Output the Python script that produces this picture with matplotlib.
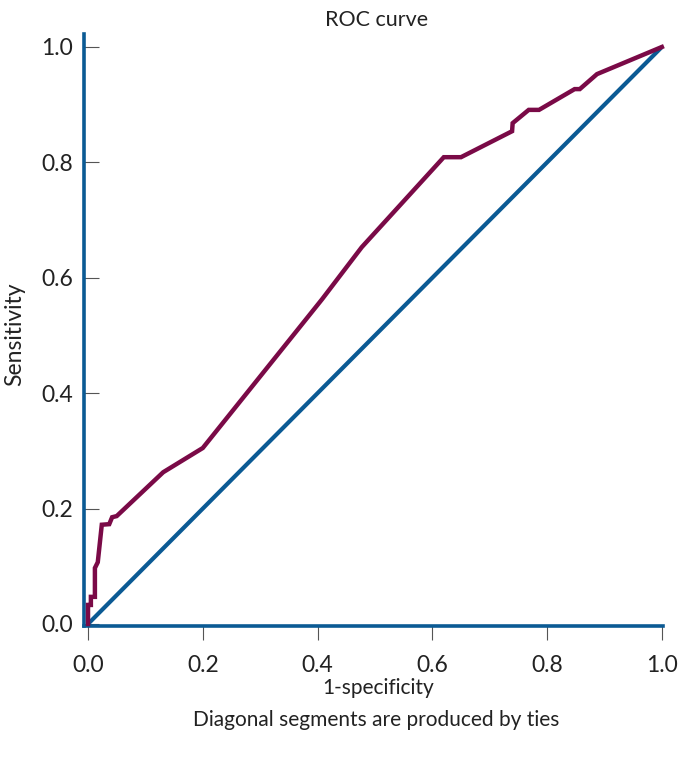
import matplotlib
matplotlib.use("Agg")
import matplotlib.pyplot as plt

plt.rcParams['font.family'] = ['Lato', 'DejaVu Sans']

# ROC curve points (1-specificity, sensitivity)
fpr = [0.0, 0.0, 0.005, 0.005, 0.012, 0.012, 0.017, 0.024, 0.037, 0.042, 0.05,
       0.131, 0.200, 0.404, 0.408, 0.477, 0.620, 0.650, 0.739, 0.740, 0.768,
       0.786, 0.848, 0.857, 0.887, 1.0]
tpr = [0.0, 0.033, 0.033, 0.047, 0.047, 0.097, 0.107, 0.172, 0.173, 0.185, 0.187,
       0.263, 0.305, 0.558, 0.563, 0.653, 0.809, 0.809, 0.854, 0.868, 0.891,
       0.891, 0.927, 0.927, 0.953, 1.0]
ref_line = [0.0, 1.0]
ticks = [0.0, 0.2, 0.4, 0.6, 0.8, 1.0]
tick_labels = ['0.0', '0.2', '0.4', '0.6', '0.8', '1.0']

BLUE = '#0b5a94'
MAROON = '#7a0a47'

W, H = 682, 764
fig = plt.figure(figsize=(W / 100, H / 100), dpi=100)
ax = fig.add_axes([84 / W, (H - 626) / H, (663 - 84) / W, (626 - 34) / H])

ax.plot(ref_line, ref_line, color=BLUE, lw=3.0, clip_on=False, solid_capstyle='butt', zorder=3)
ax.plot(fpr, tpr, color=MAROON, lw=3.2, clip_on=False, solid_joinstyle='miter', zorder=4)

ax.set_xlim(-0.007, 1.002)
ax.set_ylim(-0.0035, 1.0225)

for s in ['top', 'right']:
    ax.spines[s].set_visible(False)
for s in ['left', 'bottom']:
    ax.spines[s].set_color(BLUE)
    ax.spines[s].set_linewidth(2.6)

ax.set_xticks(ticks)
ax.set_xticklabels(tick_labels)
ax.set_yticks(ticks)
ax.set_yticklabels(tick_labels)
ax.tick_params(axis='x', direction='out', length=10, width=0.8, color='#555555',
               pad=11, labelsize=16.5, labelcolor='#222222')
ax.tick_params(axis='y', direction='in', length=11, width=0.8, color='#555555',
               pad=8, labelsize=16.5, labelcolor='#222222')

fig.text(377 / W, 1 - 20 / H, 'ROC curve', ha='center', va='center', fontsize=15.5, color='#222222')
fig.text(378 / W, 1 - 688 / H, '1-specificity', ha='center', va='center', fontsize=15, color='#222222')
fig.text(376 / W, 1 - 720 / H, 'Diagonal segments are produced by ties', ha='center', va='center',
         fontsize=15, color='#222222')
fig.text(15 / W, 1 - 334 / H, 'Sensitivity', ha='center', va='center', rotation=90,
         fontsize=16.5, color='#222222')

fig.savefig('out.png', dpi=100, facecolor='white')
